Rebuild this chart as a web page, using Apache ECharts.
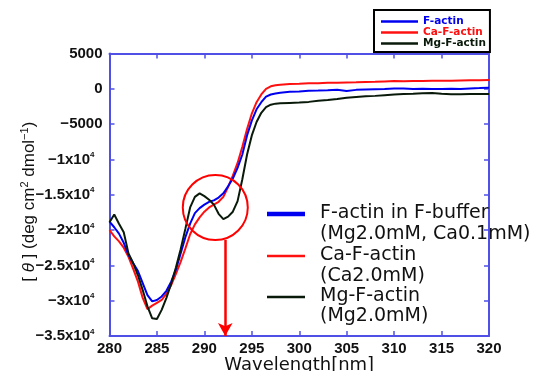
<!DOCTYPE html>
<html>
<head>
<meta charset="utf-8">
<script src="https://cdn.jsdelivr.net/npm/echarts@6/dist/echarts.min.js"></script>
<style>html,body{margin:0;padding:0;background:#fff}#c{width:534px;height:371px}</style>
</head>
<body>
<div id="c"></div>
<script>
// ---- data ----
const wavelength = [280,280.5,281,281.5,282,282.5,283,283.5,284,284.5,285,285.5,286,286.5,287,287.5,288,288.5,289,289.5,290,290.5,291,291.5,292,292.5,293,293.5,294,294.5,295,295.5,296,296.5,297,297.5,298,
  299,300,301,302,303,304,305,306,307,308,309,310,311,312,313,314,315,316,317,318,319,320];
const fActin = [-18800,-19600,-20500,-21800,-23500,-24700,-25800,-27500,-29200,-30100,-29900,-29400,-28600,-27300,-25600,-23300,-21000,-19100,-17600,-16900,-16400,-16000,-15800,-15400,-14800,-13800,-12700,-11200,-9300,-6600,-4500,-2900,-1900,-1100,-800,-650,-550,
  -420,-380,-280,-250,-200,-120,-300,-150,-80,-50,-30,40,60,-20,20,-30,-10,0,-20,60,100,150];
const caFActin = [-20000,-20900,-21600,-22500,-23800,-25500,-27300,-29600,-31200,-30700,-30300,-29900,-29000,-27800,-26200,-24500,-22600,-20600,-19200,-18200,-17400,-16800,-16400,-16000,-15300,-13900,-12300,-10500,-8200,-5700,-3500,-1900,-800,0,350,500,580,
  680,720,780,800,850,870,900,920,980,1000,1050,1100,1080,1100,1120,1150,1130,1150,1180,1200,1220,1250];
const mgFActin = [-18900,-17800,-19100,-20300,-23300,-24700,-26400,-28500,-30800,-32500,-32600,-31300,-29600,-27600,-25300,-22700,-19800,-16800,-15300,-14800,-15200,-15700,-16400,-17700,-18450,-18100,-17400,-15900,-12800,-9300,-6600,-4700,-3400,-2600,-2250,-2100,-2050,
  -2000,-1950,-1850,-1700,-1600,-1450,-1250,-1150,-1050,-1000,-900,-800,-750,-700,-640,-600,-700,-780,-760,-740,-730,-740];
const seriesNames = ['F-actin','Ca-F-actin','Mg-F-actin'];
const yTickLabels = ['5000','0','\u22125000','\u22121x10^4','\u22121.5x10^4','\u22122x10^4','\u22122.5x10^4','\u22123x10^4','\u22123.5x10^4'];
const noteLines = ['F-actin in F-buffer','(Mg2.0mM, Ca0.1mM)','Ca-F-actin','(Ca2.0mM)','Mg-F-actin','(Mg2.0mM)'];
const circleCenter = [291.15, -16800];
const arrowX = 292.2, arrowFrom = -21400, arrowTo = -35000;

// ---- styles ----
const axisColor = '#5050e6';
const colors = ['#0000f0', '#ff1010', '#0a1a0a'];
const pair = (xs, ys) => xs.map((x, i) => [x, ys[i]]);

const chart = echarts.init(document.getElementById('c'), null, {renderer: 'canvas'});
const axisBase = {
  type: 'value',
  nameMoveOverlap: false,
  axisLine: {show: true, onZero: false, lineStyle: {color: axisColor, width: 2}},
  axisTick: {show: true, inside: true, length: 5, lineStyle: {color: axisColor, width: 1.5}},
  splitLine: {show: false}
};
const labelFont = {color: '#111', fontSize: 15, fontWeight: 'bold', fontFamily: 'Liberation Sans'};

const option = {
  animation: false,
  backgroundColor: '#fff',
  color: colors,
  grid: {left: 109.5, right: 45, top: 53.5, bottom: 35, containLabel: false, outerBoundsMode: 'none'},
  legend: {
    orient: 'vertical', left: 374, top: 10,
    padding: [6, 4, 3, 7],
    borderColor: '#000', borderWidth: 2,
    icon: 'rect',
    itemWidth: 37, itemHeight: 2.5, itemGap: 0,
    data: seriesNames.map((n, i) => ({name: n, textStyle: {color: colors[i]}})),
    textStyle: {fontFamily: 'DejaVu Sans', fontWeight: 'bold', fontSize: 10.5, lineHeight: 10}
  },
  xAxis: [
    Object.assign({}, axisBase, {
      min: 280, max: 320, interval: 5, position: 'bottom',
      axisLabel: Object.assign({margin: 5}, labelFont),
      name: 'Wavelength[nm]', nameLocation: 'middle', nameGap: 20,
      nameTextStyle: {fontFamily: 'DejaVu Sans', fontSize: 18, color: '#111'}
    }),
    Object.assign({}, axisBase, {min: 280, max: 320, interval: 5, position: 'top', axisLabel: {show: false}})
  ],
  yAxis: [
    Object.assign({}, axisBase, {
      min: -35000, max: 5000, interval: 5000, position: 'left',
      axisLabel: {
        margin: 7,
        formatter: function (v) {
          const s = yTickLabels[Math.round((5000 - v) / 5000)];
          const p = s.split('^');
          if (p.length === 1) return '{b|' + p[0] + '}';
          return '{b|' + p[0] + '}{s|' + p[1] + '}';
        },
        rich: {
          b: Object.assign({}, labelFont),
          s: {color: '#111', fontSize: 8, fontWeight: 'bold', fontFamily: 'Liberation Sans', padding: [0, 8, 9, 0]}
        }
      },
      name: '{a|[ }{i|\u03b8}{a| ] (deg cm}{s|2}{a| dmol}{s|\u22121}{a|)}',
      nameLocation: 'middle', nameGap: 70,
      nameTextStyle: {
        color: '#111',
        padding: [0, 14, 0, 0],
        rich: {
          a: {fontFamily: 'Liberation Sans', fontSize: 17, color: '#111'},
          i: {fontFamily: 'Liberation Sans', fontSize: 17, fontStyle: 'italic', color: '#111'},
          s: {fontFamily: 'Liberation Sans', fontSize: 11, color: '#111', padding: [0, 0, 9, 0]}
        }
      }
    }),
    Object.assign({}, axisBase, {min: -35000, max: 5000, interval: 5000, position: 'right', axisLabel: {show: false}})
  ],
  series: [
    {name: seriesNames[0], type: 'line', data: pair(wavelength, fActin), symbol: 'none', lineStyle: {width: 2, color: colors[0]}, z: 3},
    {name: seriesNames[1], type: 'line', data: pair(wavelength, caFActin), symbol: 'none', lineStyle: {width: 2, color: colors[1]}, z: 2,
      markLine: {
        silent: true, symbol: ['none', 'arrow'], symbolSize: [11, 13],
        label: {show: false},
        lineStyle: {color: '#ff0000', width: 2.5, type: 'solid'},
        data: [[{coord: [arrowX, arrowFrom]}, {coord: [arrowX, arrowTo]}]]
      }},
    {name: seriesNames[2], type: 'line', data: pair(wavelength, mgFActin), symbol: 'none', lineStyle: {width: 2, color: colors[2]}, z: 4}
  ]
};
chart.setOption(option);

// annotations: circle and in-plot legend
const c = chart.convertToPixel({xAxisIndex: 0, yAxisIndex: 0}, circleCenter);
const lineYs = [214, 256, 297];
const lineWs = [4.5, 2.5, 2.5];
const textYs = [213, 234, 255, 276, 296, 316];
const graphics = [
  {type: 'circle', shape: {cx: c[0], cy: c[1], r: 32.5}, style: {fill: 'none', stroke: '#ff0000', lineWidth: 2}, z: 10}
];
lineYs.forEach((y, i) => graphics.push({type: 'line', shape: {x1: 267, y1: y, x2: 305, y2: y}, style: {stroke: colors[i], lineWidth: lineWs[i]}, z: 10}));
noteLines.forEach((t, i) => graphics.push({type: 'text', x: 320, y: textYs[i], style: {text: t, fill: '#111', font: '19px "DejaVu Sans"', textVerticalAlign: 'middle'}, z: 1}));
chart.setOption({graphic: graphics});
</script>
</body>
</html>
